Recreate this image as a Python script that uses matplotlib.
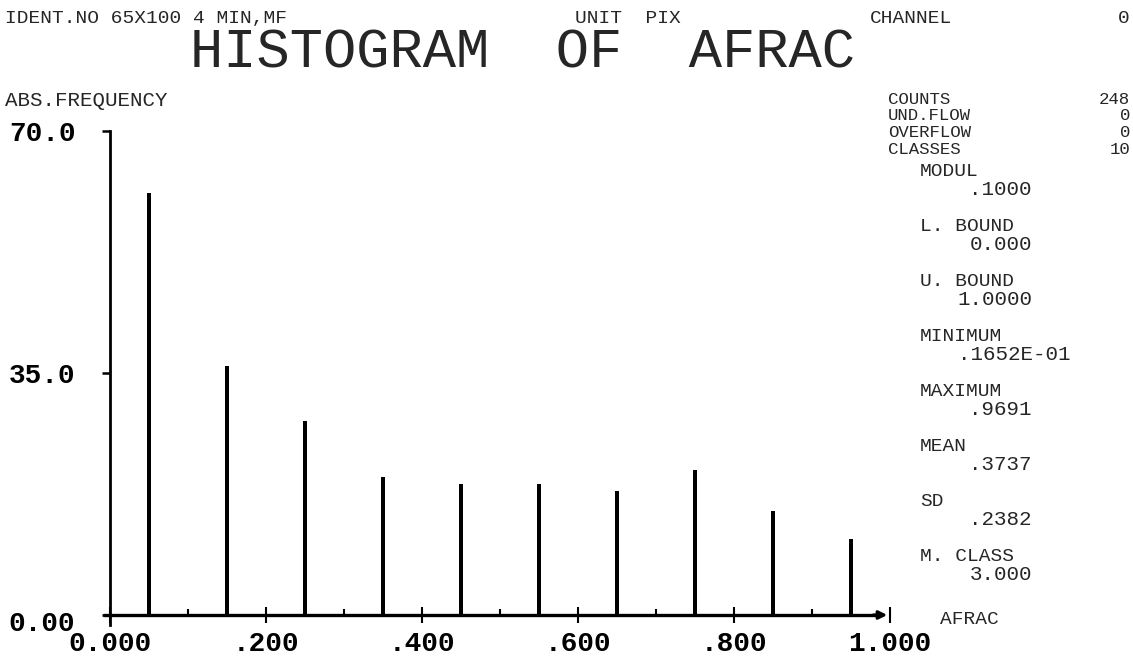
import matplotlib
matplotlib.use("Agg")
import matplotlib.pyplot as plt
import matplotlib.transforms as mtransforms

# histogram classes (centres) and counts
class_centres = [0.05, 0.15, 0.25, 0.35, 0.45, 0.55, 0.65, 0.75, 0.85, 0.95]
counts = [61, 36, 28, 20, 19, 19, 18, 21, 15, 11]

x_ticks = [0.0, 0.2, 0.4, 0.6, 0.8, 1.0]
x_tick_labels = ["0.000", ".200", ".400", ".600", ".800", "1.000"]
x_minor = [0.1, 0.3, 0.5, 0.7, 0.9]
y_ticks = [0, 35, 70]
y_tick_labels = ["0.00", "35.0", "70.0"]

header_left = "IDENT.NO 65X100 4 MIN,MF"
header_unit = "UNIT  PIX"
channel = ("CHANNEL", "0")
title = "HISTOGRAM  OF  AFRAC"
y_name = "ABS.FREQUENCY"
x_name = "AFRAC"

summary_rows = [("COUNTS", "248"), ("UND.FLOW", "0"), ("OVERFLOW", "0"), ("CLASSES", "10")]
stat_rows = [("MODUL", ".1000"), ("L. BOUND", "0.000"), ("U. BOUND", "1.0000"),
             ("MINIMUM", ".1652E-01"), ("MAXIMUM", ".9691"), ("MEAN", ".3737"),
             ("SD", ".2382"), ("M. CLASS", "3.000")]

W, H = 1133, 659
MONO = "Liberation Mono"
INK = "#262626"


def ftext(x, y, s, size=14, ha="left", weight="normal", color=INK):
    # place text by pixel position; y is the baseline measured from the top
    fig.text(x / W, 1 - y / H, s, ha=ha, va="baseline", fontsize=size,
             family=MONO, fontweight=weight, color=color)


fig = plt.figure(figsize=(W / 100, H / 100), dpi=100)
fig.patch.set_facecolor("white")

# plot area: x 0..1 -> px 110..890, y 0..70 -> px 615..131
ax = fig.add_axes([110 / W, 1 - 615 / H, 780 / W, (615 - 131) / H])
ax.set_xlim(0, 1)
ax.set_ylim(0, 70)
for sp in ax.spines.values():
    sp.set_visible(False)

ax.bar(class_centres, counts, width=0.006, color="black", zorder=3)

# axis lines drawn by hand so they can overrun the plot box
ax.plot([-0.009, 0.99], [0, 0], color="black", lw=2.4, clip_on=False, zorder=4,
        solid_capstyle="butt")
ax.annotate("", xy=(1.0, 0), xytext=(0.975, 0), xycoords="data",
            arrowprops=dict(arrowstyle="-|>", color="black", lw=2.2,
                            mutation_scale=12), annotation_clip=False)
ax.plot([0, 0], [-1.5, 70], color="black", lw=2.0, clip_on=False, zorder=4)

ax.set_xticks(x_ticks)
ax.set_xticklabels(x_tick_labels)
ax.set_xticks(x_minor, minor=True)
ax.tick_params(axis="x", which="major", direction="inout", length=11, width=1.5,
               pad=6, labelsize=20)
ax.tick_params(axis="x", which="minor", direction="in", length=4, width=1.5)
ax.set_yticks(y_ticks)
ax.set_yticklabels(y_tick_labels)
ax.tick_params(axis="y", which="major", direction="out", length=6, width=1.8,
               pad=19, labelsize=20)
for lbl in ax.get_xticklabels() + ax.get_yticklabels():
    lbl.set_family(MONO)
    lbl.set_fontweight("bold")
    lbl.set_color("black")

# the zero label sits a little under the x axis
zero_lbl = ax.yaxis.get_major_ticks()[0].label1
zero_lbl.set_transform(zero_lbl.get_transform() +
                       mtransforms.ScaledTranslation(0, -6 / 100, fig.dpi_scale_trans))

# header lines
ftext(5, 23, header_left)
ftext(575, 23, header_unit)
ftext(870, 23, channel[0])
ftext(1130, 23, channel[1], ha="right")
ftext(522, 68, title, size=40, ha="center")
ftext(5, 106, y_name, size=15)
ftext(940, 624, x_name)

# summary block on the right
for i, (name, val) in enumerate(summary_rows):
    y = 104 + 16.5 * i
    ftext(888, y, name, size=12.5)
    ftext(1130, y, val, size=12.5, ha="right")

val_right = 1032
val_left = 958
for i, (name, val) in enumerate(stat_rows):
    y = 176 + 55 * i
    ftext(920, y, name)
    if len(val) > 6:
        ftext(val_left, y + 19, val, size=15)
    else:
        ftext(val_right, y + 19, val, size=15, ha="right")

fig.savefig("out.png", dpi=100, facecolor="white")
